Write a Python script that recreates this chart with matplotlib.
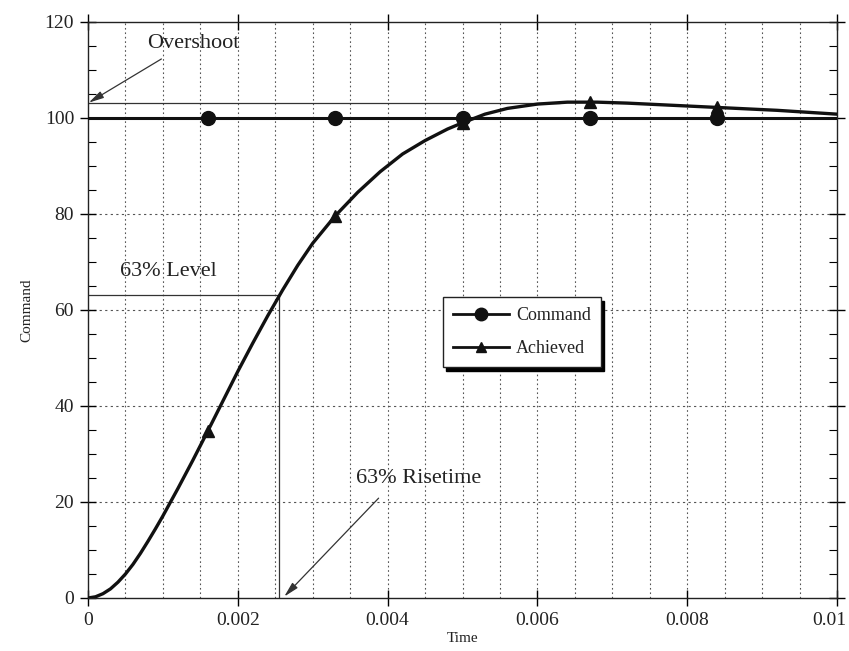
import numpy as np
import matplotlib
matplotlib.use("Agg")
import matplotlib.pyplot as plt
from matplotlib.lines import Line2D
from matplotlib.ticker import MultipleLocator
from matplotlib.transforms import ScaledTranslation

plt.rcParams['font.family'] = ['Liberation Serif', 'DejaVu Serif']

# ---- data ----
time_ms = [0, 0.1, 0.2, 0.3, 0.4, 0.5, 0.6, 0.7, 0.8, 0.9, 1.0, 1.2, 1.4, 1.6, 1.8,
           2.0, 2.2, 2.4, 2.6, 2.8, 3.0, 3.3, 3.6, 3.9, 4.2, 4.5, 4.8, 5.0, 5.3,
           5.6, 6.0, 6.4, 6.8, 7.2, 7.6, 8.0, 8.4, 8.8, 9.2, 9.6, 10.0]
achieved = [0, 0.25, 0.9, 1.9, 3.3, 5.0, 7.0, 9.3, 11.8, 14.4, 17.1, 22.8, 28.7, 34.8, 41.0,
            47.2, 53.1, 58.8, 64.2, 69.3, 73.9, 79.6, 84.5, 88.8, 92.5, 95.3, 97.7, 99.0, 100.8,
            102.0, 102.9, 103.3, 103.3, 103.1, 102.8, 102.5, 102.2, 101.9, 101.6, 101.2, 100.8]
command_t = [0.0, 0.01]
command_v = [100, 100]
marker_t = [0.0016, 0.0033, 0.0050, 0.0067, 0.0084]

overshoot_level = 103.2
overshoot_end = 0.0063
level63 = 63.2
rise63 = 0.00255

x_ticks = [0, 0.002, 0.004, 0.006, 0.008, 0.01]
x_ticklabels = ['0', '0.002', '0.004', '0.006', '0.008', '0.01']
y_ticks = [0, 20, 40, 60, 80, 100, 120]

time = np.array(time_ms) / 1000.0

fig = plt.figure(figsize=(8.49, 6.51), dpi=100)
ax = fig.add_axes([88 / 849, 1 - 598 / 651, (837 - 88) / 849, (598 - 22) / 651])

txt = '#222222'
ax.set_xlim(0, 0.01)
ax.set_ylim(0, 120)

# grid
ax.xaxis.set_minor_locator(MultipleLocator(0.0005))
ax.yaxis.set_minor_locator(MultipleLocator(5))
ax.set_xticks(x_ticks)
ax.set_xticklabels(x_ticklabels)
ax.set_yticks(y_ticks)
for xv in np.arange(0.0005, 0.01, 0.0005):
    ax.axvline(xv, color='#555555', lw=0.8, ls=(0, (1.5, 2.5)), zorder=1)
for yv in y_ticks[1:-1]:
    ax.axhline(yv, color='#555555', lw=0.8, ls=(0, (2, 3)), zorder=1)

ax.tick_params(axis='both', which='major', direction='inout', length=12, width=1,
               top=True, right=True, labelsize=14, labelcolor=txt, pad=4)
ax.tick_params(axis='x', which='minor', length=0)
ax.tick_params(axis='y', which='minor', direction='in', length=6, width=0.8,
               right=True)
for s in ax.spines.values():
    s.set_linewidth(1.0)
    s.set_color('#222222')

# keep the last x tick label inside the figure, as in the reference
last = ax.get_xticklabels()[-1]
last.set_transform(last.get_transform() + ScaledTranslation(-8 / 100, 0, fig.dpi_scale_trans))

# reference lines
ax.hlines(overshoot_level, 0, overshoot_end, color='#333333', lw=0.9, zorder=2)
ax.hlines(level63, 0, rise63, color='#333333', lw=0.9, zorder=2)
ax.vlines(rise63, 0, level63, color='#333333', lw=0.9, zorder=2)

# curves
ax.plot(command_t, command_v, color='#111111', lw=2.2, zorder=3)
ax.plot(time, achieved, color='#111111', lw=2.4, zorder=3, solid_capstyle='round')
ax.plot(marker_t, np.interp(marker_t, command_t, command_v), 'o', color='#111111',
        ms=10, zorder=4)
ax.plot(marker_t, np.interp(marker_t, time, achieved), '^', color='#111111',
        ms=8, zorder=4)

# annotations
arrow = dict(arrowstyle='-|>,head_length=0.9,head_width=0.22', lw=0.9,
             color='#333333', shrinkA=0, shrinkB=0)
ax.text(0.0014, 115.6, 'Overshoot', fontsize=16, color=txt, ha='center', va='center', zorder=5)
ax.annotate('', xy=(0.00001, overshoot_level), xytext=(0.00098, 112.3),
            arrowprops=arrow, zorder=5)
ax.text(0.00107, 68.1, '63% Level', fontsize=16, color=txt, ha='center', va='center')
ax.text(0.00442, 24.8, '63% Risetime', fontsize=16, color=txt, ha='center', va='center')
ax.annotate('', xy=(0.00262, 0.3), xytext=(0.00388, 20.8), arrowprops=arrow, zorder=5)

ax.set_xlabel('Time', fontsize=11, color=txt, labelpad=2)
ax.set_ylabel('Command', fontsize=11, color=txt, labelpad=8)

handles = [Line2D([], [], color='#111111', lw=2, marker='o', ms=9),
           Line2D([], [], color='#111111', lw=2, marker='^', ms=7)]
leg = ax.legend(handles, ['Command', 'Achieved'], loc='upper left',
                bbox_to_anchor=((443 - 88) / 749, (598 - 297) / 576), borderaxespad=0,
                fontsize=13, handlelength=3.1, handletextpad=0.4, labelspacing=0.9,
                borderpad=0.55, fancybox=False, framealpha=1,
                shadow={'color': 'black', 'alpha': 1, 'ox': 2, 'oy': -3})
leg.get_frame().set_edgecolor('#222222')
leg.get_frame().set_linewidth(1.0)
for t in leg.get_texts():
    t.set_color(txt)

fig.savefig('out.png', dpi=100)
